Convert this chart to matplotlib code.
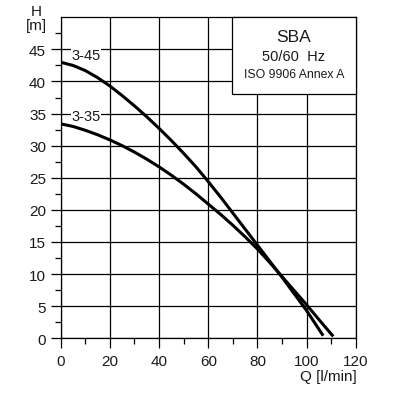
import matplotlib
matplotlib.use("Agg")
import matplotlib.pyplot as plt
from matplotlib.patches import Rectangle
from matplotlib.ticker import MultipleLocator

plt.rcParams['font.family'] = ['Liberation Sans', 'DejaVu Sans']

q_345 = [0, 5, 10, 15, 20, 25, 30, 35, 40, 45, 50, 55, 60, 65, 70, 75, 80, 85, 90, 95, 100, 106.7]
h_345 = [43.0, 42.5, 41.7, 40.6, 39.3, 37.8, 36.2, 34.5, 32.7, 30.8, 28.8, 26.7, 24.4, 22.0,
         19.5, 17.0, 14.5, 12.0, 9.5, 6.9, 4.3, 0.4]
q_335 = [0, 5, 10, 15, 20, 25, 30, 35, 40, 45, 50, 55, 60, 65, 70, 75, 80, 85, 90, 95, 100, 105, 110.8]
h_335 = [33.4, 33.0, 32.4, 31.7, 30.9, 30.0, 29.0, 27.9, 26.7, 25.4, 24.0, 22.5, 20.9, 19.3,
         17.6, 15.8, 13.9, 11.8, 9.6, 7.4, 5.2, 2.9, 0.3]

series_labels = ["3-45", "3-35"]
box_lines = ["SBA", "50/60  Hz", "ISO 9906 Annex A"]
x_label = "Q [l/min]"
y_label = "H\n[m]"

fig = plt.figure(figsize=(4.10, 4.02), dpi=100)
ax = fig.add_axes([0.148, 0.156, 0.720, 0.7985])

ax.set_xlim(0, 120)
ax.set_ylim(0, 50)
ax.xaxis.set_major_locator(MultipleLocator(20))
ax.xaxis.set_minor_locator(MultipleLocator(10))
ax.grid(True, which='major', color='black', linewidth=0.9, zorder=1)
ax.set_axisbelow(True)
for s in ax.spines.values():
    s.set_linewidth(0.9)
    s.set_color('black')

ax.tick_params(which='major', direction='out', length=7.5, width=0.9,
               labelsize=11, labelcolor='#1a1a1a', pad=3)
ax.tick_params(which='minor', direction='out', length=4.5, width=0.9)
ax.tick_params(axis='x', pad=4)
ax.set_yticks([0, 5, 10, 15, 20, 25, 30, 35, 40, 45])
ax.set_yticks([2.5, 7.5, 12.5, 17.5, 22.5, 27.5, 32.5, 37.5, 42.5, 47.5], minor=True)

ax.plot(q_345, h_345, color='black', linewidth=2.2, solid_capstyle='butt',
        solid_joinstyle='round', zorder=3)
ax.plot(q_335, h_335, color='black', linewidth=2.2, solid_capstyle='butt',
        solid_joinstyle='round', zorder=3)

bbox = dict(facecolor='white', edgecolor='none', pad=0.5)
ax.text(10.3, 44.1, series_labels[0], fontsize=10.5, ha='center', va='center',
        color='#1a1a1a', bbox=bbox, zorder=4)
ax.text(10.3, 34.6, series_labels[1], fontsize=10.5, ha='center', va='center',
        color='#1a1a1a', bbox=bbox, zorder=4)

ax.add_patch(Rectangle((69.8, 38.1), 50.2, 11.9, facecolor='white',
                       edgecolor='black', linewidth=0.9, zorder=5, clip_on=False))
ax.text(94.8, 47.0, box_lines[0], fontsize=12.5, ha='center', va='center',
        color='#1a1a1a', zorder=6)
ax.text(94.8, 44.0, box_lines[1], fontsize=10.5, ha='center', va='center',
        color='#1a1a1a', zorder=6)
ax.text(94.8, 41.2, box_lines[2], fontsize=8.8, ha='center', va='center',
        color='#1a1a1a', zorder=6)

fig.text(357/410, 1 - 377/402, x_label, fontsize=11, ha='right', va='center',
         color='#1a1a1a')
fig.text(36/410, 1 - 19/402, y_label, fontsize=11, ha='center', va='center',
         color='#1a1a1a', linespacing=1.0)

fig.savefig("out.png", dpi=100)
